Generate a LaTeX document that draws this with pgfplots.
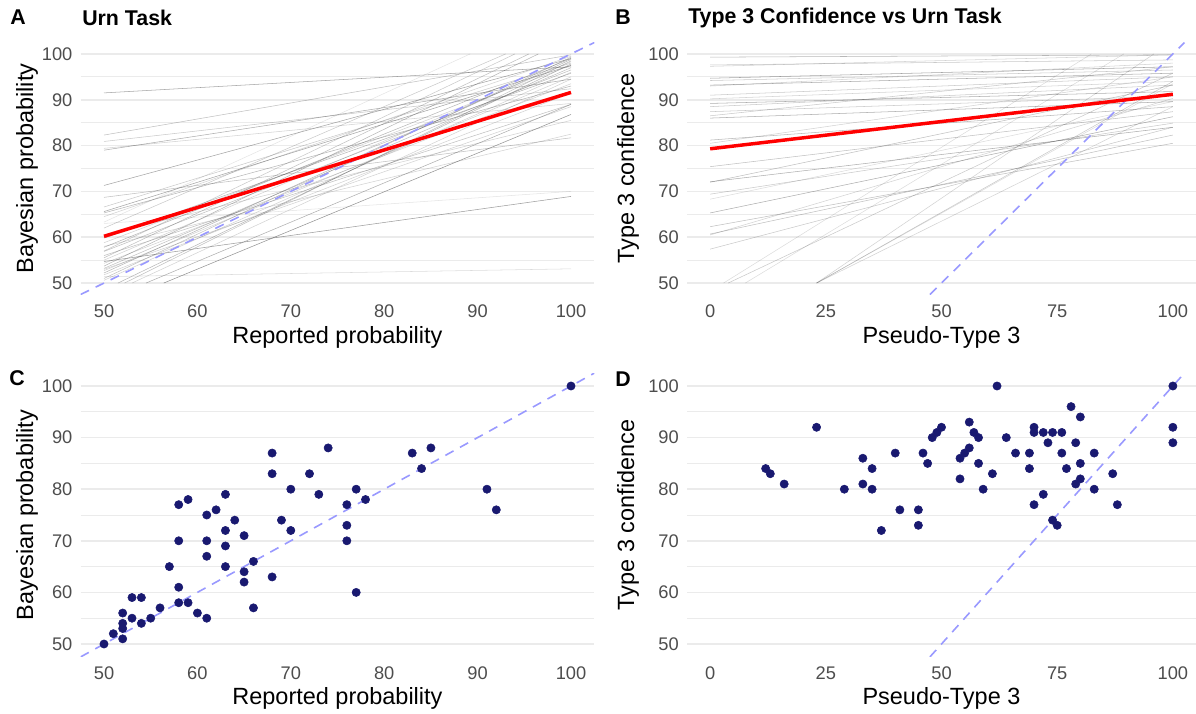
\documentclass[border=0pt]{standalone}
\usepackage{pgfplots}
\pgfplotsset{compat=1.18}
\usepackage{fontspec}
\setmainfont{Liberation Sans}
\definecolor{gridc}{HTML}{EBEBEB}
\definecolor{tickc}{HTML}{4D4D4D}
\definecolor{navy}{HTML}{191970}
\definecolor{idline}{HTML}{9999FF}
\newcommand{\labfont}{\fontsize{17.6pt}{20pt}\selectfont}
\newcommand{\titfont}{\fontsize{16pt}{19pt}\selectfont\bfseries}
\pgfplotsset{
 panel/.style={
  scale only axis, anchor=south west,
  axis line style={draw=none},
  major tick length=0pt, minor tick length=0pt,
  ymin=47.5, ymax=102.5,
  ytick={50,60,...,100}, minor ytick={55,65,...,95},
  ymajorgrids, yminorgrids,
  major grid style={gridc, line width=1.2pt},
  minor grid style={gridc, line width=0.6pt},
  ticklabel style={font=\fontsize{13.7pt}{16pt}\selectfont, text=tickc},
  /pgf/number format/assume math mode=true,
  yticklabel style={inner sep=0pt, xshift=-6pt},
  xticklabel style={inner sep=0pt, yshift=-7.5pt},
 },
 gl/.style={draw=black!70, opacity=#1, line width=0.4pt, forget plot},
 redl/.style={red, line width=2.6pt},
 idl/.style={idline, line width=1.2pt, dash pattern=on 7pt off 5.5pt},
 pts/.style={only marks, mark=*, mark size=3.1pt, color=navy, mark options={draw=navy, fill=navy}},
}
\begin{document}
\begin{tikzpicture}
\useasboundingbox (0,0) rectangle (897pt,535.5pt);

% ---------------- Panel A ----------------
\begin{axis}[panel, at={(60.49pt,314.625pt)}, width=385.28pt, height=189pt,
  xmin=47.5, xmax=102.5, xtick={50,60,...,100}]
\addplot[gl=0.5] coordinates {(50,91.5)(100,97.2)};
\addplot[gl=0.35] coordinates {(50,82.3)(100,99.8)};
\addplot[gl=0.3] coordinates {(50,80.9)(100,92.4)};
\addplot[gl=0.25] coordinates {(50,79.4)(100,89.2)};
\addplot[gl=0.45] coordinates {(50,79.0)(100,94.5)};
\addplot[gl=0.5] coordinates {(50,71.3)(100,99.0)};
\addplot[gl=0.35] coordinates {(50,68.7)(100,81.7)};
\addplot[gl=0.3] coordinates {(50,66.6)(100,98.0)};
\addplot[gl=0.5] coordinates {(50,65.6)(100,97.5)};
\addplot[gl=0.4] coordinates {(50,65.3)(100,93.0)};
\addplot[gl=0.15] coordinates {(50,63.3)(89.2,100)};
\addplot[gl=0.15] coordinates {(50,63.0)(100,70.0)};
\addplot[gl=0.25] coordinates {(50,64.5)(100,99.5)};
\addplot[gl=0.3] coordinates {(50,62.0)(93,100)};
\addplot[gl=0.25] coordinates {(50,60.5)(100,85.5)};
\addplot[gl=0.4] coordinates {(50,59.8)(100,95.8)};
\addplot[gl=0.25] coordinates {(50,58.8)(100,97.5)};
\addplot[gl=0.25] coordinates {(50,58.0)(100,82.5)};
\addplot[gl=0.4] coordinates {(50,57.8)(100,99.0)};
\addplot[gl=0.3] coordinates {(50,57.0)(94,100)};
\addplot[gl=0.35] coordinates {(50,56.9)(100,96.5)};
\addplot[gl=0.35] coordinates {(50,56.0)(100,89.0)};
\addplot[gl=0.35] coordinates {(50,55.5)(95.5,100)};
\addplot[gl=0.25] coordinates {(50,55.0)(100,98.3)};
\addplot[gl=0.55] coordinates {(50,54.7)(100,68.9)};
\addplot[gl=0.25] coordinates {(50,54.3)(100,93.5)};
\addplot[gl=0.4] coordinates {(50,53.7)(96.5,100)};
\addplot[gl=0.35] coordinates {(50,53.2)(100,97.0)};
\addplot[gl=0.25] coordinates {(50,53.0)(100,88.5)};
\addplot[gl=0.25] coordinates {(50,52.7)(100,95.0)};
\addplot[gl=0.4] coordinates {(50,52.2)(100,98.8)};
\addplot[gl=0.25] coordinates {(50,51.8)(100,91.5)};
\addplot[gl=0.2] coordinates {(50,51.4)(100,53.1)};
\addplot[gl=0.35] coordinates {(50,51.0)(100,99.3)};
\addplot[gl=0.25] coordinates {(50,50.6)(100,96.0)};
\addplot[gl=0.4] coordinates {(51.5,50)(100,97.8)};
\addplot[gl=0.35] coordinates {(52.2,50)(100,98.5)};
\addplot[gl=0.25] coordinates {(53,50)(100,94.5)};
\addplot[gl=0.45] coordinates {(54.5,50)(100,89.0)};
\addplot[gl=0.6] coordinates {(56.4,50)(100,86.8)};
\addplot[idl] coordinates {(47.5,47.5)(102.5,102.5)};
\addplot[redl] coordinates {(50,60.2)(100,91.6)};
\end{axis}

% ---------------- Panel B ----------------
\begin{axis}[panel, at={(515.25pt,314.625pt)}, width=381.75pt, height=189pt,
  xmin=-5, xmax=105, xtick={0,25,50,75,100}]
\addplot[gl=0.4] coordinates {(0,99.3)(100,99.8)};
\addplot[gl=0.3] coordinates {(0,97.6)(100,98.7)};
\addplot[gl=0.25] coordinates {(0,97.3)(100,99.8)};
\addplot[gl=0.5] coordinates {(0,94.7)(100,97.2)};
\addplot[gl=0.3] coordinates {(0,94.2)(100,96.5)};
\addplot[gl=0.45] coordinates {(0,93.2)(100,95.8)};
\addplot[gl=0.25] coordinates {(0,93.0)(100,98.0)};
\addplot[gl=0.3] coordinates {(0,91.0)(100,95.0)};
\addplot[gl=0.25] coordinates {(0,90.2)(100,94.0)};
\addplot[gl=0.45] coordinates {(0,89.2)(100,91.8)};
\addplot[gl=0.3] coordinates {(0,88.5)(100,93.2)};
\addplot[gl=0.3] coordinates {(0,87.4)(100,90.8)};
\addplot[gl=0.3] coordinates {(0,86.5)(100,97.2)};
\addplot[gl=0.45] coordinates {(0,86.0)(100,89.6)};
\addplot[gl=0.4] coordinates {(0,81.2)(100,88.5)};
\addplot[gl=0.25] coordinates {(0,80.5)(100,95.0)};
\addplot[gl=0.35] coordinates {(0,75.4)(100,87.4)};
\addplot[gl=0.45] coordinates {(0,72.1)(100,84.0)};
\addplot[gl=0.35] coordinates {(0,72.0)(100,93.2)};
\addplot[gl=0.3] coordinates {(0,69.4)(100,84.9)};
\addplot[gl=0.2] coordinates {(0,68.3)(100,89.6)};
\addplot[gl=0.45] coordinates {(0,65.3)(100,86.3)};
\addplot[gl=0.35] coordinates {(0,62.3)(100,80.5)};
\addplot[gl=0.35] coordinates {(0,60.7)(100,82.3)};
\addplot[gl=0.25] coordinates {(0,60.5)(100,90.3)};
\addplot[gl=0.3] coordinates {(0,57.4)(100,84.0)};
\addplot[gl=0.2] coordinates {(2.9,50)(82.4,100)};
\addplot[gl=0.3] coordinates {(3.9,50)(100,95.8)};
\addplot[gl=0.2] coordinates {(7.6,50)(89.4,100)};
\addplot[gl=0.25] coordinates {(23,50)(95.9,100)};
\addplot[gl=0.3] coordinates {(23,50)(100,94.0)};
\addplot[gl=0.25] coordinates {(23,50)(100,88.5)};
\addplot[gl=0.2] coordinates {(23,50)(100,93.5)};
\addplot[idl] coordinates {(47.5,47.5)(102.5,102.5)};
\addplot[redl] coordinates {(0,79.3)(100,91.2)};
\end{axis}

% ---------------- Panel C ----------------
\begin{axis}[panel, at={(60.49pt,42.825pt)}, width=385.28pt, height=212.85pt,
  xmin=47.5, xmax=102.5, xtick={50,60,...,100}]
\addplot[idl] coordinates {(47.5,47.5)(102.5,102.5)};
\addplot[pts] table {
x y
100 100
91 80
92 76
83 87
84 84
85 88
74 88
68 87
68 83
72 83
70 80
73 79
77 80
78 78
76 77
76 73
76 70
77 60
69 74
70 72
68 63
66 66
65 71
65 64
65 62
66 57
64 74
63 79
63 72
63 69
63 65
62 76
61 75
61 70
61 67
61 55
60 56
59 78
58 77
58 70
58 61
58 58
59 58
57 65
56 57
55 55
54 59
54 54
53 59
53 55
52 56
52 54
52 53
52 51
51 52
50 50
};
\end{axis}

% ---------------- Panel D ----------------
\begin{axis}[panel, at={(515.25pt,42.825pt)}, width=381.75pt, height=212.85pt,
  xmin=-5, xmax=105, xtick={0,25,50,75,100}]
\addplot[idl] coordinates {(47.5,47.5)(102.5,102.5)};
\addplot[pts] table {
x y
12 84
13 83
16 81
23 92
29 80
33 86
33 81
35 84
35 80
37 72
40 87
41 76
45 76
45 73
46 87
47 85
48 90
49 91
50 92
54 86
54 82
55 87
56 88
56 93
57 91
58 90
58 85
59 80
61 83
62 100
64 90
66 87
69 87
69 84
70 92
70 91
70 77
72 91
72 79
73 89
74 91
74 74
75 73
76 91
76 87
77 84
78 96
79 89
79 81
80 94
80 85
80 82
83 87
83 80
87 83
88 77
100 100
100 92
100 89
};
\end{axis}

% ---------------- Text ----------------
\node[font=\titfont] at (13.5pt,522.75pt) {A};
\node[font=\titfont, anchor=west, inner sep=0pt] at (61.5pt,522pt) {Urn Task};
\node[font=\titfont] at (467.25pt,522.75pt) {B};
\node[font=\titfont, anchor=west, inner sep=0pt] at (516pt,522pt) {Type 3 Confidence vs Urn Task};
\node[font=\titfont] at (12.75pt,252pt) {C};
\node[font=\titfont] at (467.25pt,251.25pt) {D};

\node[font=\labfont, rotate=90] at (20.25pt,409.1pt) {Bayesian probability};
\node[font=\labfont] at (253.1pt,282.75pt) {Reported probability};
\node[font=\labfont, rotate=90] at (471pt,409.1pt) {Type 3 confidence};
\node[font=\labfont] at (706.1pt,282.75pt) {Pseudo-Type 3};
\node[font=\labfont, rotate=90] at (20.25pt,149.25pt) {Bayesian probability};
\node[font=\labfont] at (253.1pt,11.5pt) {Reported probability};
\node[font=\labfont, rotate=90] at (471pt,149.25pt) {Type 3 confidence};
\node[font=\labfont] at (706.1pt,12pt) {Pseudo-Type 3};
\end{tikzpicture}
\end{document}
